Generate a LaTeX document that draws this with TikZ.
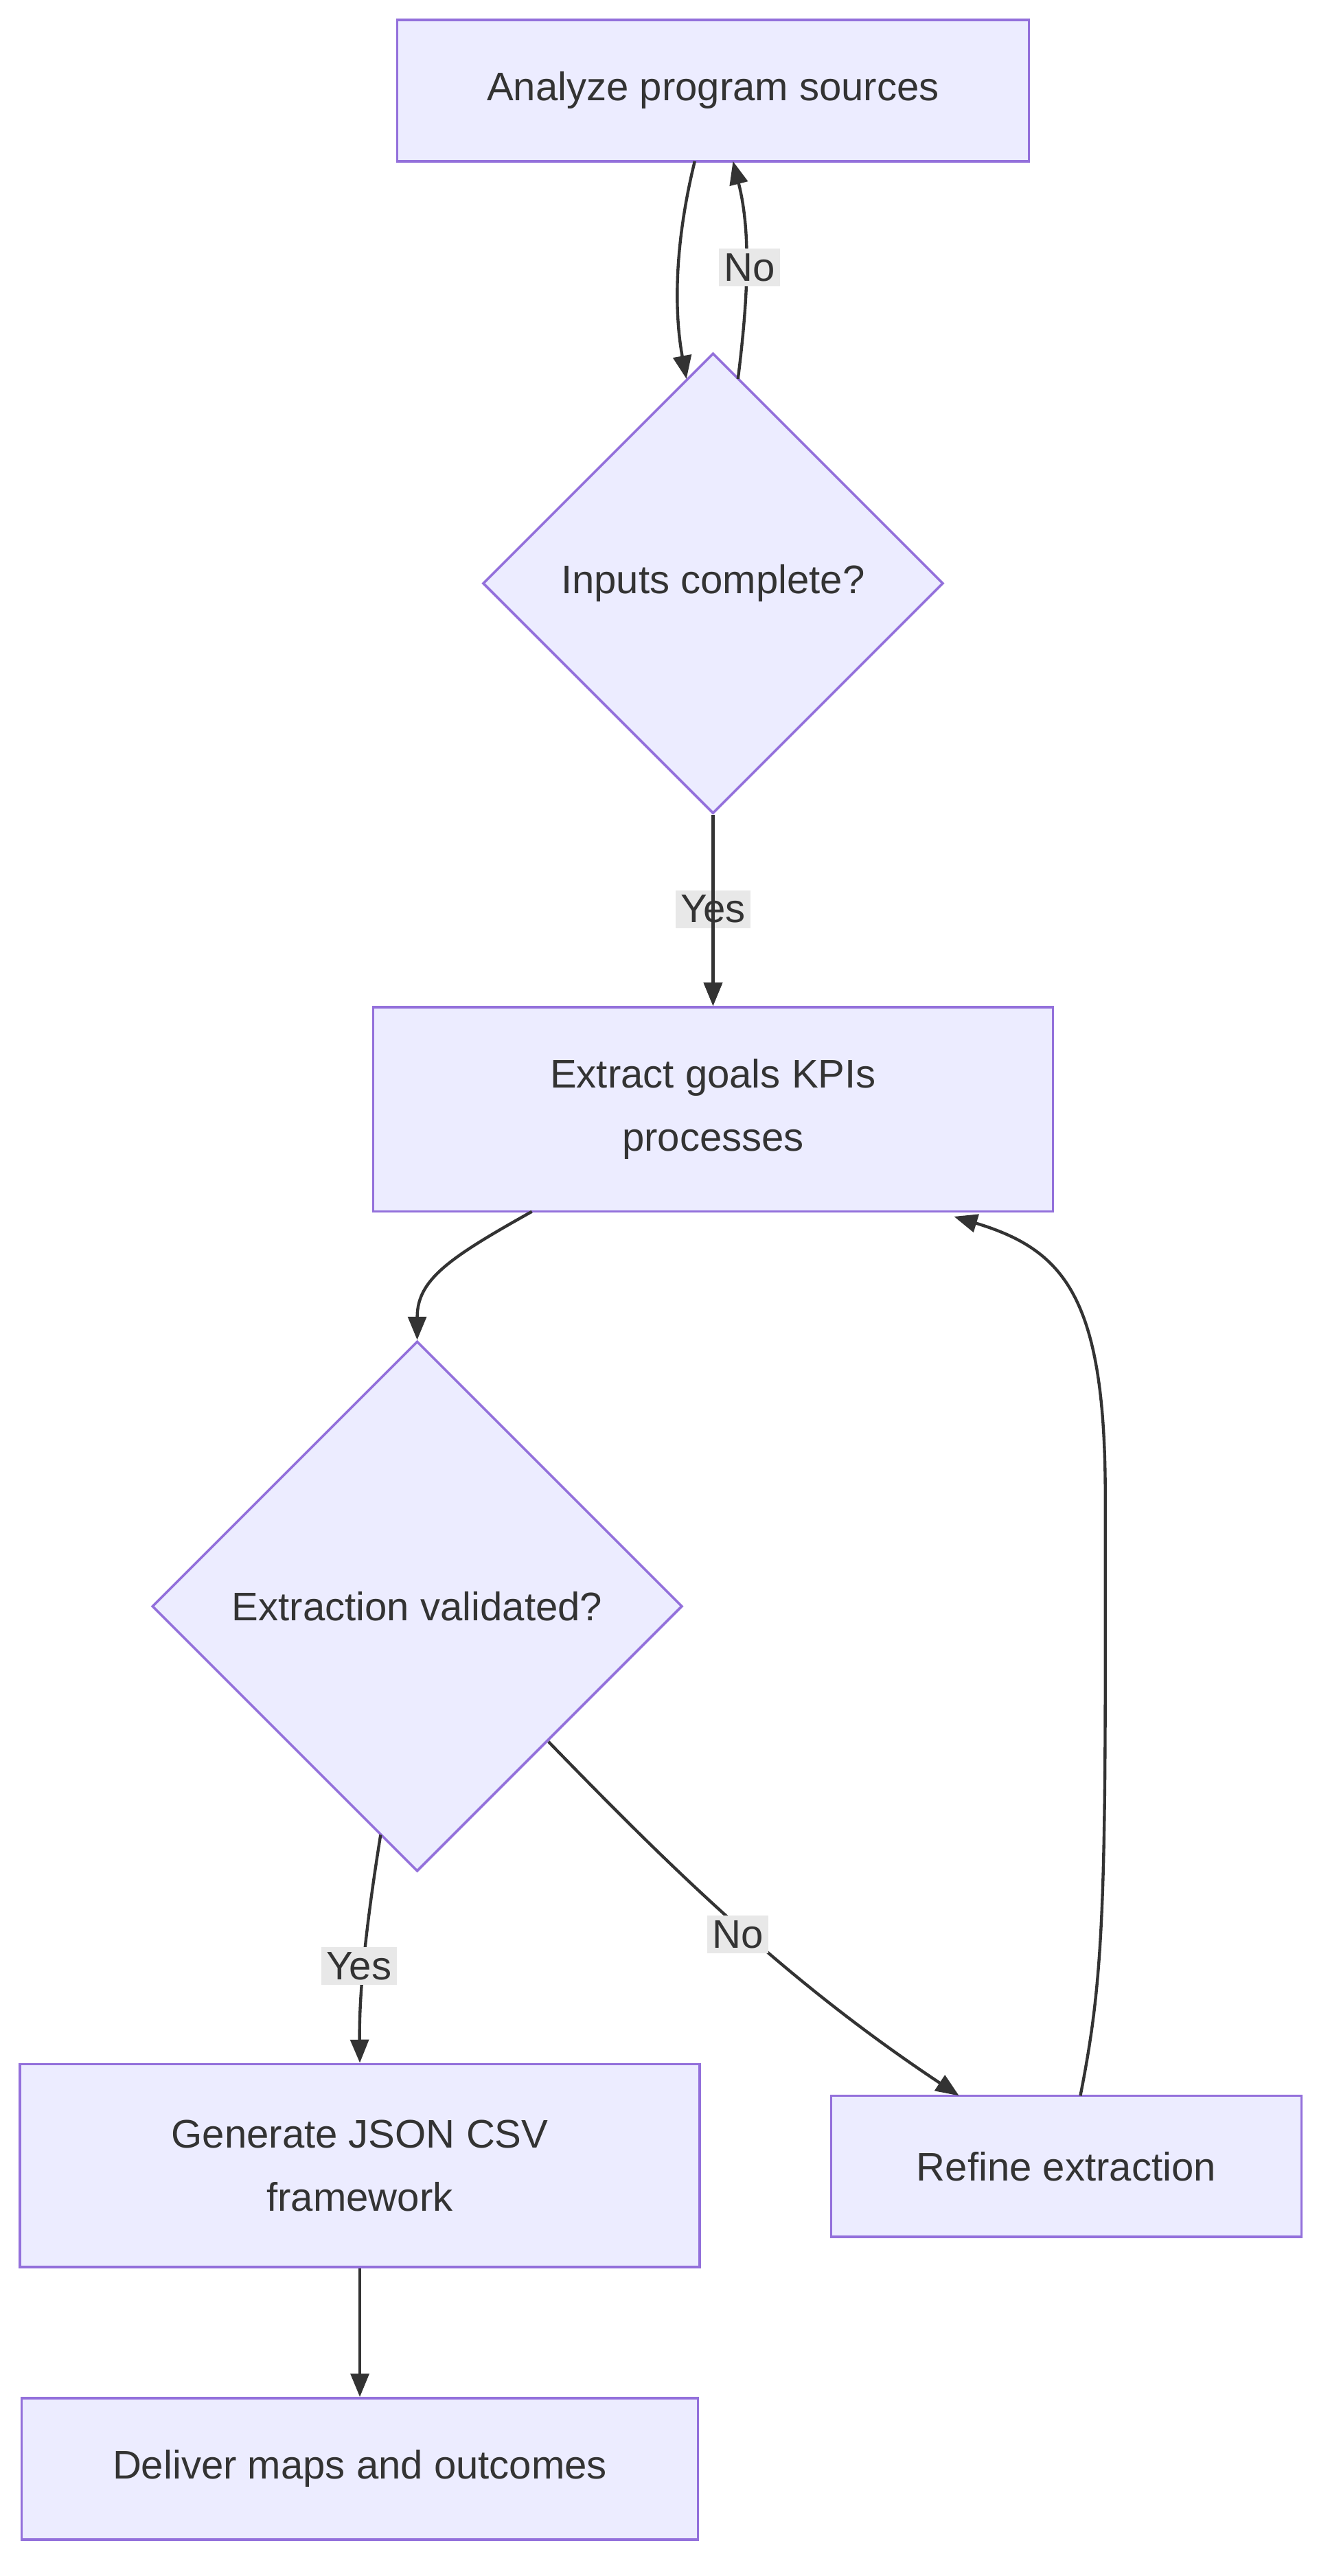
\documentclass[tikz,border=0pt]{standalone}
\usepackage{fontspec}
\setmainfont{Liberation Sans}
\usetikzlibrary{arrows.meta,shapes.geometric}
\definecolor{nfill}{HTML}{ECECFF}
\definecolor{nline}{HTML}{9370DB}
\definecolor{txt}{HTML}{333333}
\definecolor{lbg}{HTML}{E8E8E8}
\begin{document}
\begin{tikzpicture}[x=1pt,y=-1pt,
  box/.style={draw=nline,fill=nfill,line width=1.5pt,text=txt,font=\fontsize{24}{38}\selectfont,align=center,inner sep=0pt},
  dia/.style={draw=nline,fill=nfill,line width=1.5pt,text=txt,font=\fontsize{24}{38}\selectfont,diamond,aspect=1,inner sep=0pt},
  conn/.style={draw=txt,line width=1.8pt,-{Triangle[length=14pt,width=11pt]}},
  lbl/.style={fill=lbg,text=txt,font=\fontsize{24}{30}\selectfont,inner sep=3pt}]
\useasboundingbox (0,0) rectangle (800,1550);
\node[box,minimum width=380,minimum height=85] (A) at (429,54.5) {Analyze program sources};
\node[dia,minimum width=277,minimum height=277] (B) at (429,351) {Inputs complete?};
\node[box,minimum width=409,minimum height=123] (C) at (429,667.5) {Extract goals KPIs\\processes};
\node[dia,minimum width=319,minimum height=319] (D) at (251,966.5) {Extraction validated?};
\node[box,minimum width=409,minimum height=122] (E) at (216.5,1303) {Generate JSON CSV\\framework};
\node[box,minimum width=283,minimum height=85] (F) at (641.5,1303.5) {Refine extraction};
\node[box,minimum width=407,minimum height=85] (G) at (216.5,1485.5) {Deliver maps and outcomes};
\coordinate (a1) at (418,97); \coordinate (b1) at (413,228);
\draw[conn] (a1) .. controls (405,150) and (406,190) .. (b1);
\coordinate (b2) at (444,228); \coordinate (a2) at (441,97);
\draw[conn] (b2) .. controls (450,180) and (452,140) .. (a2);
\node[lbl] at (451,161) {No};
\draw[conn] (B.south) -- (C.north);
\node[lbl] at (429,547) {Yes};
\coordinate (c1) at (320,729);
\draw[conn] (c1) .. controls (270,757) and (251,770) .. (D.north);
\coordinate (d1) at (229,1104);
\draw[conn] (d1) .. controls (220,1160) and (216,1200) .. (E.north);
\node[lbl] at (216,1183) {Yes};
\coordinate (d2) at (330,1048); \coordinate (f1) at (577,1261);
\draw[conn] (d2) .. controls (400,1120) and (470,1190) .. (f1);
\node[lbl] at (444,1164) {No};
\coordinate (f2) at (650,1261); \coordinate (c2) at (574,732);
\draw[conn] (f2) .. controls (662,1200) and (665,1160) .. (665,1000) -- (665,900) .. controls (665,780) and (640,752) .. (c2);
\draw[conn] (B.south) -- (C.north);
\draw[conn] (E.south) -- (G.north);
\end{tikzpicture}
\end{document}
